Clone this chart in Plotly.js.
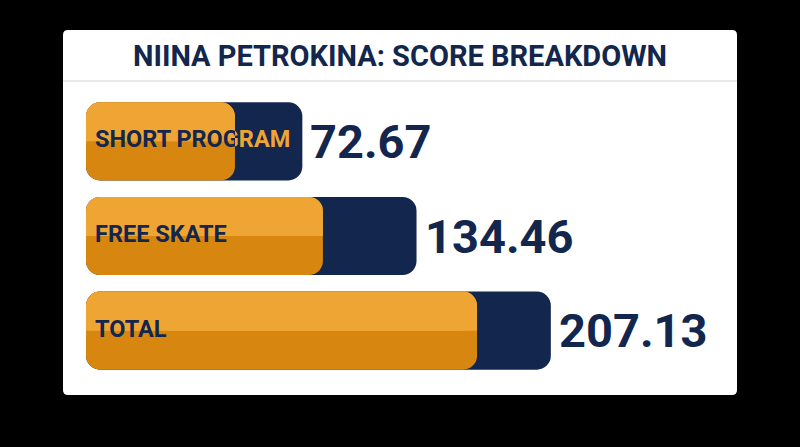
<!DOCTYPE html>
<html>
<head>
<meta charset="utf-8">
<script src="https://cdn.plot.ly/plotly-3.0.1.min.js"></script>
<style>
html,body{margin:0;padding:0;background:#000;}
#chart{width:800px;height:447px;}
</style>
</head>
<body>
<div id="chart"></div>
<script>
// ---- data ----
const categories = ['SHORT PROGRAM', 'FREE SKATE', 'TOTAL'];
const scores = [72.67, 134.46, 207.13];
const highlight = [36.2, 83.8, 167.2];   // orange segment
const chartTitle = 'NIINA PETROKINA: SCORE BREAKDOWN';

// ---- style ----
const NAVY = '#12264e';
const ORANGE_LIGHT = '#efa533';
const ORANGE_DARK = '#d7860f';
const FONT = 'Roboto, "Open Sans", sans-serif';
const barStart = -44.4;     // axis position where the bars begin
const K = 1.848;            // px per unit
const W = 0.825;            // bar thickness in category units
const R = 14;               // corner radius px
const stripUnits = 0.16;    // square strip to keep band edge straight
const labelPad = 9;         // px from bar start to label

// layout geometry (px)
const M = {l: 86, r: 63, t: 94, b: 69};
const plotW = 800 - M.l - M.r, plotH = 447 - M.t - M.b;
const xp = px => (px - M.l) / plotW;
const yp = py => (M.t + plotH - py) / plotH;
const dOf = v => (v - barStart) * K / plotW;           // data -> domain fraction
const vOf = d => barStart + d * plotW / K;              // domain fraction -> data

function bar(x, color, opts) {
  return Object.assign({
    type: 'bar', orientation: 'h', y: categories, x: x, base: barStart,
    width: W, marker: {color: color, cornerradius: R, line: {width: 0}},
    hoverinfo: 'skip', showlegend: false
  }, opts || {});
}
const fromStart = arr => arr.map(v => v - barStart);

const traces = [
  bar(fromStart(scores), NAVY),
  bar(fromStart(highlight), ORANGE_DARK),
  bar(fromStart(highlight), ORANGE_LIGHT, {width: W / 2, offset: -W / 2}),
  bar(fromStart(highlight), ORANGE_LIGHT,
      {width: stripUnits, offset: -stripUnits,
       marker: {color: ORANGE_LIGHT, cornerradius: 0, line: {width: 0}}})
];

const layout = {
  width: 800, height: 447,
  margin: M,
  paper_bgcolor: '#000000',
  plot_bgcolor: 'rgba(0,0,0,0)',
  barmode: 'overlay',
  title: {
    text: chartTitle, x: 0.5, xref: 'container', xanchor: 'center',
    y: 1 - 55.5 / 447, yref: 'container', yanchor: 'middle',
    font: {family: FONT, size: 29, color: NAVY, weight: 700}
  },
  xaxis: {range: [barStart, vOf(1)], visible: false, fixedrange: true},
  yaxis: {type: 'category', categoryorder: 'array', categoryarray: categories,
          range: [2.5, -0.5], visible: false, fixedrange: true},
  annotations: [],
  hovermode: false
};

// category labels: navy over the orange part, orange over the navy part (clipped per subplot)
let axN = 2;
categories.forEach((c, i) => {
  const dSplit = dOf(highlight[i]);
  [[0, dSplit, NAVY], [dSplit, 1, ORANGE_LIGHT]].forEach(([d0, d1, col]) => {
    const name = 'xaxis' + axN;
    layout[name] = {domain: [d0, d1], range: [vOf(d0), vOf(d1)], anchor: 'y',
                    visible: false, fixedrange: true};
    traces.push({
      type: 'scatter', mode: 'text', x: [barStart + labelPad / K], y: [c],
      xaxis: 'x' + axN, yaxis: 'y', text: [c], textposition: 'middle right',
      cliponaxis: true, hoverinfo: 'skip', showlegend: false,
      textfont: {family: FONT, size: 23.5, color: col, weight: 700}
    });
    axN++;
  });
  layout.annotations.push({
    x: scores[i], y: c, xref: 'x', yref: 'y', text: scores[i].toFixed(2),
    showarrow: false, xanchor: 'left', yanchor: 'middle', xshift: 6,
    font: {family: FONT, size: 47, color: NAVY, weight: 700}
  });
});

// card with small rounded corners + separator under the title
const cx0 = xp(63), cx1 = xp(737), cy0 = yp(395), cy1 = yp(30);
const rx = 5 / plotW, ry = 5 / plotH;
const cardPath = `M${cx0 + rx},${cy0} L${cx1 - rx},${cy0} Q${cx1},${cy0} ${cx1},${cy0 + ry} ` +
  `L${cx1},${cy1 - ry} Q${cx1},${cy1} ${cx1 - rx},${cy1} L${cx0 + rx},${cy1} ` +
  `Q${cx0},${cy1} ${cx0},${cy1 - ry} L${cx0},${cy0 + ry} Q${cx0},${cy0} ${cx0 + rx},${cy0} Z`;
layout.shapes = [
  {type: 'path', xref: 'paper', yref: 'paper', path: cardPath,
   fillcolor: '#ffffff', line: {width: 0}, layer: 'below'},
  {type: 'line', xref: 'paper', yref: 'paper', x0: cx0, x1: cx1, y0: yp(81), y1: yp(81),
   line: {color: '#e2e2e2', width: 1.5}, layer: 'below'}
];

Plotly.newPlot('chart', traces, layout, {displayModeBar: false, staticPlot: true});
</script>
</body>
</html>
